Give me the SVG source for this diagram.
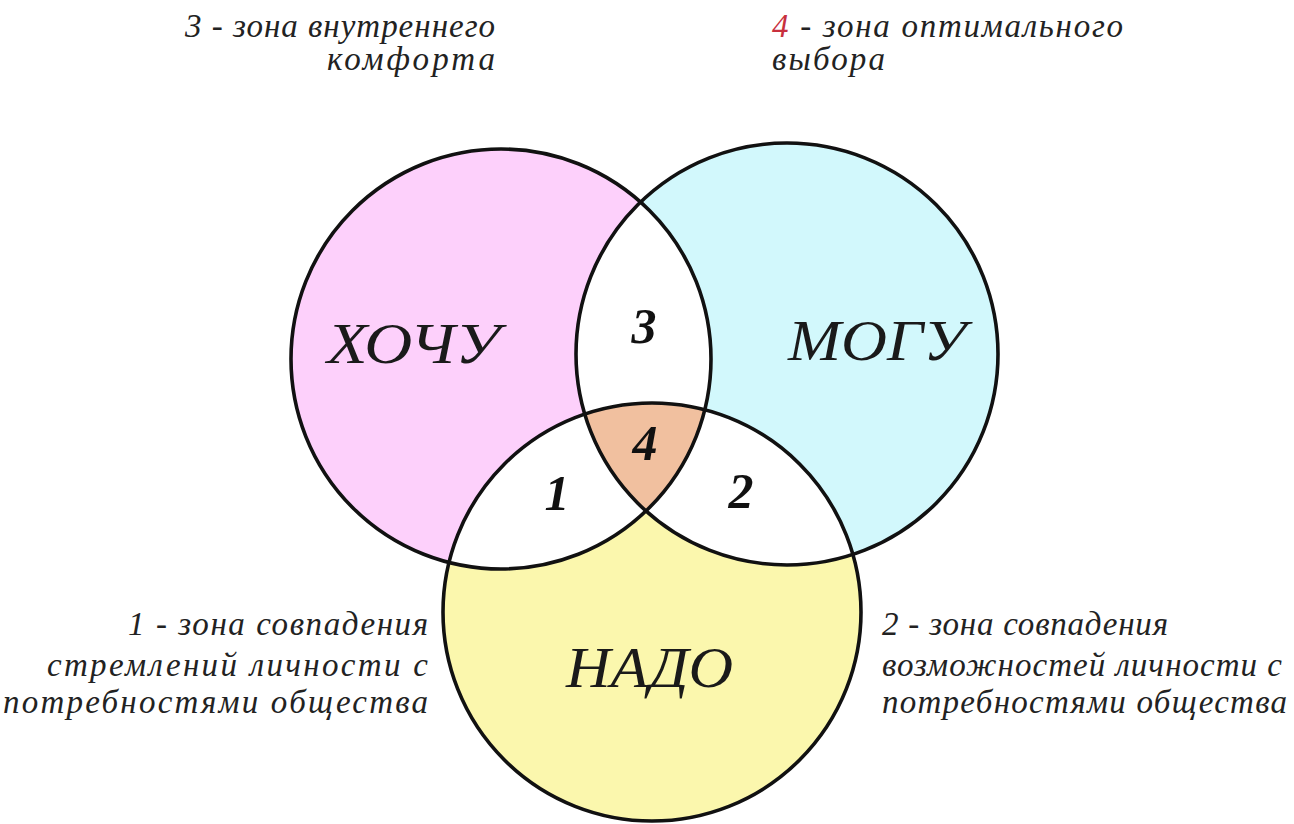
<svg xmlns="http://www.w3.org/2000/svg" width="1294" height="824" viewBox="0 0 1294 824">
<style>
.ring{fill:none;stroke:#111;stroke-width:3.6}
.cap{font-family:"Liberation Serif","DejaVu Serif",serif;font-style:italic;font-size:33px;fill:#222}
.big{font-family:"Liberation Serif","DejaVu Serif",serif;font-style:italic;font-size:58px;fill:#1a1a1a}
.num{font-family:"Liberation Serif","DejaVu Serif",serif;font-style:italic;font-weight:bold;font-size:50px;fill:#111;text-anchor:middle}
</style>
<defs>
<clipPath id="cB"><circle cx="787" cy="354" r="211"/></clipPath>
<clipPath id="cC"><circle cx="652" cy="612" r="209"/></clipPath>
</defs>
<rect width="1294" height="824" fill="#fff"/>
<g id="fills">
<circle cx="501" cy="359" r="210" fill="#fdd0fb"/>
<circle cx="787" cy="354" r="211" fill="#d2f8fc"/>
<circle cx="652" cy="612" r="209" fill="#fbf7ad"/>
<circle cx="501" cy="359" r="210" fill="#fff" clip-path="url(#cB)"/>
<circle cx="501" cy="359" r="210" fill="#fff" clip-path="url(#cC)"/>
<circle cx="787" cy="354" r="211" fill="#fff" clip-path="url(#cC)"/>
<g clip-path="url(#cC)"><circle cx="501" cy="359" r="210" fill="#f1c09f" clip-path="url(#cB)"/></g>
</g>
<g id="hochu">
<circle class="ring" cx="501" cy="359" r="210"/>
<text class="big" x="327" y="363" textLength="173" lengthAdjust="spacingAndGlyphs">ХОЧУ</text>
</g>
<g id="mogu">
<circle class="ring" cx="787" cy="354" r="211"/>
<text class="big" x="788" y="360" textLength="178" lengthAdjust="spacingAndGlyphs">МОГУ</text>
</g>
<g id="nado">
<circle class="ring" cx="652" cy="612" r="209"/>
<text class="big" x="566" y="687" textLength="167" lengthAdjust="spacingAndGlyphs">НАДО</text>
</g>
<g id="zones">
<text class="num" x="644" y="343">3</text>
<text class="num" x="645" y="460">4</text>
<text class="num" x="557" y="510">1</text>
<text class="num" x="741" y="508">2</text>
</g>
<g id="legend3">
<text class="cap" x="185" y="37" textLength="310">3 - зона внутреннего</text>
<text class="cap" x="327" y="70" textLength="168">комфорта</text>
</g>
<g id="legend4">
<text class="cap" x="772" y="37" textLength="351"><tspan fill="#c8303e">4</tspan> - зона оптимального</text>
<text class="cap" x="772" y="70" textLength="113">выбора</text>
</g>
<g id="legend1">
<text class="cap" x="128" y="635" textLength="300">1 - зона совпадения</text>
<text class="cap" x="47" y="676" textLength="381">стремлений личности с</text>
<text class="cap" x="3" y="713" textLength="425">потребностями общества</text>
</g>
<g id="legend2">
<text class="cap" x="882" y="635" textLength="286">2 - зона совпадения</text>
<text class="cap" x="882" y="676" textLength="400">возможностей личности с</text>
<text class="cap" x="882" y="713" textLength="405">потребностями общества</text>
</g>
</svg>
